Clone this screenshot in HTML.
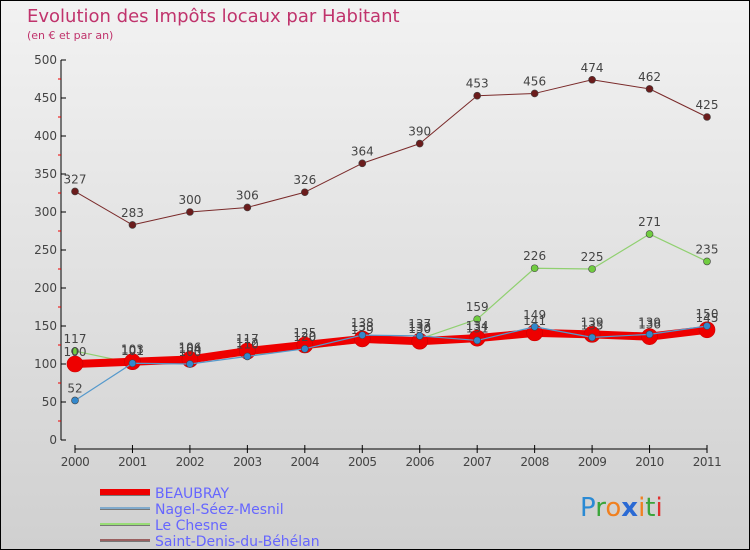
<!DOCTYPE html>
<html><head><meta charset="utf-8">
<style>
body{margin:0;}
#wrap{width:750px;height:550px;position:relative;overflow:hidden;font-family:"DejaVu Sans","Liberation Sans",sans-serif;}
</style></head>
<body>
<div id="wrap">
<svg id="chart" width="750" height="550" xmlns="http://www.w3.org/2000/svg">
<defs>
<linearGradient id="bg" x1="0" y1="0" x2="0" y2="1">
<stop offset="0" stop-color="#f2f2f2"/><stop offset="1" stop-color="#d0d0d0"/>
</linearGradient>
</defs>
<rect x="0.5" y="0.5" width="749" height="549" fill="url(#bg)" stroke="#000"/>
<text x="27" y="22" font-size="18" fill="#c0336c">Evolution des Impôts locaux par Habitant</text>
<text x="27" y="39" font-size="11" fill="#c0336c">(en € et par an)</text>
<g id="axes"></g>
<g id="series"></g>
<g id="legend"></g>
<g font-size="26" font-family="DejaVu Sans,sans-serif">
<text x="580" y="516"><tspan fill="#2a8ad4">P</tspan><tspan fill="#3aa53a">r</tspan><tspan fill="#f08020">o</tspan><tspan fill="#2a6ad4" font-weight="bold">x</tspan><tspan fill="#f08020">i</tspan><tspan fill="#3aa53a">t</tspan><tspan fill="#e03030">i</tspan></text>
</g>
</svg>
</div>
<script>
const years=["2000","2001","2002","2003","2004","2005","2006","2007","2008","2009","2010","2011"];
const beaubray=[100,103,106,117,125,133,130,134,141,139,136,145];
const nagel=[52,101,100,110,120,138,137,131,149,135,139,150];
const chesne=[117,101,104,112,120,129,133,159,226,225,271,235];
const stdenis=[327,283,300,306,326,364,390,453,456,474,462,425];
const yTicks=[0,50,100,150,200,250,300,350,400,450,500];

const NS="http://www.w3.org/2000/svg";
const x0=75,x1=707,yb=440,yt=60,ymax=500;
const X=i=>x0+(x1-x0)*i/(years.length-1);
const Y=v=>yb-(yb-yt)*v/ymax;
function mk(tag,attrs,parent){const e=document.createElementNS(NS,tag);for(const k in attrs)e.setAttribute(k,attrs[k]);parent.appendChild(e);return e;}
const axes=document.getElementById('axes');
// y axis
let yl=mk('line',{x1:61,y1:yt,x2:61,y2:yb,stroke:'#000'},axes);


yTicks.forEach(v=>{
 const t=mk('line',{x1:61,y1:Y(v),x2:66,y2:Y(v),stroke:'#000'},axes);
 
 
 if(v<500){const m=mk('line',{x1:58,y1:Y(v+25),x2:61,y2:Y(v+25),stroke:'#e00'},axes);
 
 }
 const l=mk('text',{x:57,y:Y(v)+4,'font-size':12,fill:'#444','text-anchor':'end'},axes);
 l.textContent=v;
 
 
});
let xl=mk('line',{x1:x0,y1:449,x2:x1,y2:449,stroke:'#000'},axes);


years.forEach((y,i)=>{
 const t=mk('line',{x1:X(i),y1:445,x2:X(i),y2:453,stroke:'#000'},axes);
 
 
 const l=mk('text',{x:X(i),y:466,'font-size':12,fill:'#444','text-anchor':'middle','letter-spacing':'-0.5'},axes);
 l.textContent=y;
 
 
});
const ser=document.getElementById('series');
const defs=[
 {d:stdenis,c:'#7a2a2a',w:1,r:3.5,f:'#6b1c1c',n:'saint-denis'},
 {d:chesne,c:'#90d070',w:1.2,r:3.5,f:'#70cc40',n:'le-chesne'},
 {d:beaubray,c:'#ee0000',w:8,r:8,f:'#ee0000',n:'beaubray'},
 {d:nagel,c:'#5599cc',w:1.2,r:3.5,f:'#3388cc',n:'nagel'}
];
defs.forEach(s=>{
 const g=mk('g',{},ser);
 
 
 const p=mk('polyline',{points:s.d.map((v,i)=>X(i)+','+Y(v)).join(' '),fill:'none',stroke:s.c,'stroke-width':s.w,'stroke-linejoin':'round'},g);
 
 
 s.d.forEach((v,i)=>{
  const c=mk('circle',{cx:X(i),cy:Y(v),r:s.r,fill:s.f,stroke:s.n=='beaubray'?'#cc0000':'#444','stroke-width':0.6},g);
  
  
  const t=mk('text',{x:X(i),y:Y(v)-8,'font-size':12,fill:'#444','text-anchor':'middle'},g);
  t.textContent=v;
  
  
 });
});
const leg=document.getElementById('legend');
const items=[['BEAUBRAY','#ee0000',6],['Nagel-Séez-Mesnil','#80aacc',2],['Le Chesne','#99dd77',2],['Saint-Denis-du-Béhélan','#9a6060',2]];
items.forEach((it,i)=>{
 const y=492+i*16;
 const g=mk('g',{},leg);
 
 
 mk('line',{x1:100,y1:y+1,x2:150,y2:y+1,stroke:'#777','stroke-width':it[2]},g);
 mk('line',{x1:100,y1:y,x2:150,y2:y,stroke:it[1],'stroke-width':it[2]},g);
 const t=mk('text',{x:155,y:y+6,'font-size':14,fill:'#6666ff'},g);
 t.textContent=it[0];
});
</script>
</body></html>
